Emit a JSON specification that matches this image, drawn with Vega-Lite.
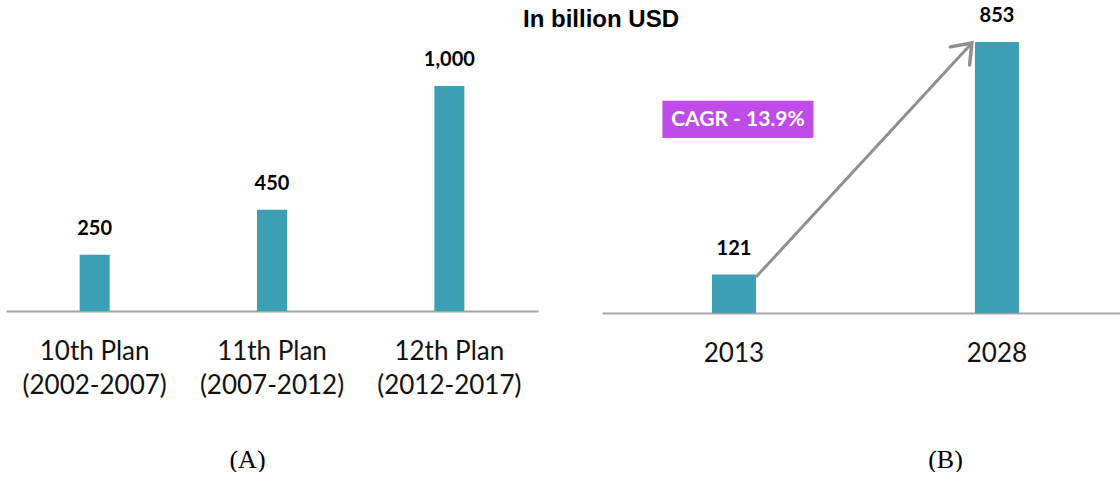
{
  "$schema": "https://vega.github.io/schema/vega-lite/v6.json",
  "background": "white",
  "padding": {"left": 6, "top": 6, "right": 0, "bottom": 0},
  "title": {"text": "In billion USD", "font": "Liberation Sans", "fontSize": 24, "fontWeight": "bold", "color": "#000000", "anchor": "start", "frame": "group", "dx": 517, "offset": -26},
  "config": {
    "view": {"stroke": null},
    "concat": {"spacing": 64},
    "axisX": {
      "domainColor": "#a6a6a6", "domainWidth": 2, "ticks": false, "grid": false,
      "labelFont": "Lato", "labelFontSize": 26, "labelColor": "#111111", "labelPadding": 27,
      "labelLineHeight": 34, "labelAngle": 0, "labelOverlap": false, "labelBound": false,
      "titleFont": "Liberation Serif", "titleFontSize": 26, "titleFontWeight": "normal", "titleColor": "#000000",
      "titleBaseline": "alphabetic", "titleAlign": "center", "titleAnchor": null
    }
  },
  "bounds": "flush",
  "hconcat": [
    {
      "width": 532,
      "height": 271,
      "data": {"values": [
        {"plan": "10th Plan (2002-2007)", "value": 250},
        {"plan": "11th Plan (2007-2012)", "value": 450},
        {"plan": "12th Plan (2012-2017)", "value": 1000}
      ]},
      "encoding": {
        "x": {"field": "plan", "type": "nominal", "sort": null,
          "scale": {"paddingInner": 0, "paddingOuter": 0, "round": false},
          "axis": {"title": "(A)", "titleX": 241, "titleY": 156,
            "labelExpr": "[substring(datum.value, 0, indexof(datum.value, ' (')), substring(datum.value, indexof(datum.value, ' (') + 1)]"}},
        "y": {"field": "value", "type": "quantitative", "scale": {"domain": [0, 1204.4], "nice": false, "zero": true}, "axis": null}
      },
      "layer": [
        {"mark": {"type": "bar", "width": 30, "color": "#3c9fb4"}},
        {"mark": {"type": "text", "dy": -20, "baseline": "alphabetic", "font": "Lato", "fontWeight": "bold", "fontSize": 20, "color": "#000000"},
          "encoding": {"text": {"field": "value", "type": "quantitative", "format": ","}}}
      ]
    },
    {
      "width": 518,
      "height": 273,
      "data": {"values": [
        {"year": "2013", "value": 121},
        {"year": "2028", "value": 853}
      ]},
      "encoding": {
        "x": {"field": "year", "type": "nominal", "sort": null,
          "scale": {"paddingInner": 0.5, "paddingOuter": 0.2348, "align": 0.536, "round": false},
          "axis": {"title": "(B)", "titleX": 343, "titleY": 154}},
        "y": {"field": "value", "type": "quantitative", "scale": {"domain": [0, 859.3], "nice": false, "zero": true}, "axis": null}
      },
      "layer": [
        {"mark": {"type": "bar", "width": 44, "color": "#3c9fb4"}},
        {"mark": {"type": "text", "dy": -20, "baseline": "alphabetic", "font": "Lato", "fontWeight": "bold", "fontSize": 20, "color": "#000000"},
          "encoding": {"text": {"field": "value", "type": "quantitative", "format": ","}}},
        {
          "data": {"values": [{"year": "2013", "year2": "2028", "start": 113, "end": 850}]},
          "mark": {"type": "rule", "color": "#8f8f8f", "strokeWidth": 3, "xOffset": 22, "x2Offset": -25},
          "encoding": {
            "x2": {"field": "year2"},
            "y": {"field": "start", "type": "quantitative"},
            "y2": {"field": "end"}
          }
        },
        {
          "transform": [{"filter": "datum.year == '2028'"}],
          "mark": {"type": "point", "shape": "M-0.6,0.8L0,0L0.6,0.8", "filled": false, "color": "#8f8f8f", "strokeWidth": 3.5, "size": 1936, "angle": 43, "xOffset": -25, "yOffset": 1, "opacity": 1, "strokeCap": "round", "strokeJoin": "miter"}
        },
        {
          "data": {"values": [{"year": "2013", "label": "CAGR - 13.9%", "lo": 551, "hi": 668, "mid": 609}]},
          "mark": {"type": "bar", "width": 151, "color": "#bf4ce9", "xOffset": 4},
          "encoding": {"y": {"field": "lo", "type": "quantitative"}, "y2": {"field": "hi"}}
        },
        {
          "data": {"values": [{"year": "2013", "label": "CAGR - 13.9%", "lo": 551, "hi": 668, "mid": 609}]},
          "mark": {"type": "text", "font": "Lato", "fontWeight": "bold", "fontSize": 21, "color": "#ffffff", "baseline": "middle", "xOffset": 4},
          "encoding": {"y": {"field": "mid", "type": "quantitative"}, "text": {"field": "label"}}
        }
      ]
    }
  ]
}
